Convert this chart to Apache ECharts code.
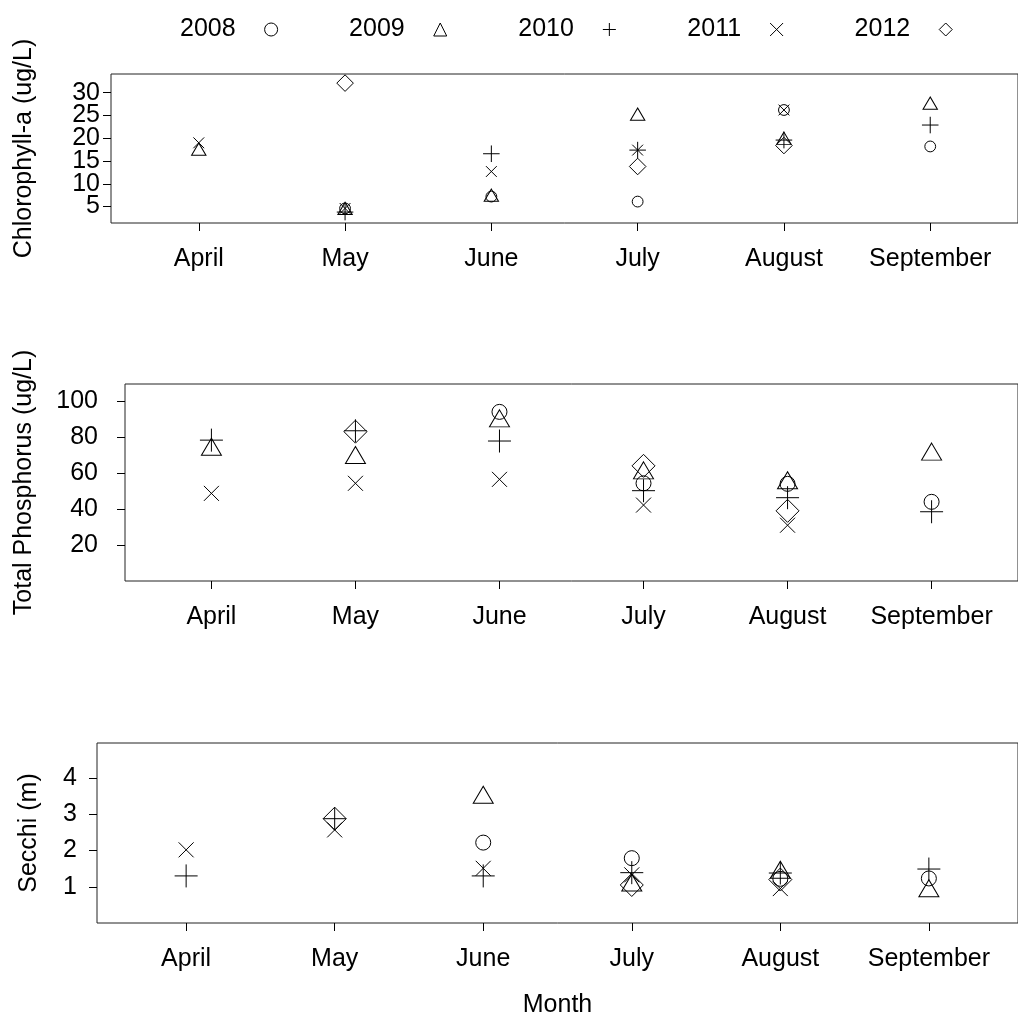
<!DOCTYPE html>
<html>
<head>
<meta charset="utf-8">
<script src="https://cdn.jsdelivr.net/npm/echarts@6/dist/echarts.min.js"></script>
<style>
  html, body { margin: 0; padding: 0; background: #fff; }
  #chart { width: 1018px; height: 1020px; }
</style>
</head>
<body>
<div id="chart"></div>
<script>
// months on x, one value per month (null = no sample)
var months = ['April', 'May', 'June', 'July', 'August', 'September'];
var monthPos = [1, 2, 3, 4, 5, 6];
var years = ['2008', '2009', '2010', '2011', '2012'];

// Chlorophyll-a (ug/L)
var chl2008 = [null, 4.6, 7.2, 6.1, 26.2, 18.2];
var chl2009 = [17.6, 4.6, 7.5, 25.3, 20.0, 27.7];
var chl2010 = [null, 3.8, 16.6, 17.4, 19.6, 22.9];
var chl2011 = [19.0, 4.6, 12.7, 17.4, 26.2, null];
var chl2012 = [null, 32.1, null, 13.8, 18.4, null];

// Total Phosphorus (ug/L)
var tp2008 = [null, null, 94, 54.3, 54, 44];
var tp2009 = [74.6, 70, 90.4, 61.5, 56, 71.9];
var tp2010 = [78.3, 83.5, 77.8, 50.2, 46.3, 38.5];
var tp2011 = [48.7, 54.3, 56.5, 42.2, 31, null];
var tp2012 = [null, 83, null, 64, 39, null];

// Secchi (m)
var sec2008 = [null, null, 2.22, 1.79, 1.22, 1.23];
var sec2009 = [null, null, 3.54, 1.12, 1.47, 0.96];
var sec2010 = [1.30, 2.88, 1.30, 1.39, 1.38, 1.49];
var sec2011 = [2.02, 2.57, 1.51, 1.33, 0.95, null];
var sec2012 = [null, 2.88, null, 1.05, 1.20, null];

// chlorophyll ticks are packed tightly, split over two label rows so none get dropped
var chlTicksA = [5, 15, 25];
var chlTicksB = [10, 20, 30];
var tpTicks = [20, 40, 60, 80, 100];
var secTicks = [1, 2, 3, 4];

var font = '"Liberation Sans", Arial, sans-serif';
var fs = 25;

// R-like plotting symbols: pch 1,2,3,4,5
var symbols = [
  'circle',
  'triangle',
  'path://M0,5 L10,5 M5,0 L5,10',
  'path://M0,0 L10,10 M10,0 L0,10',
  'diamond'
];
// sizes for the lower two panels, top panel is scaled down
var sizeFactor = [[15, 15], [20, 17], [23, 23], [15, 15], [23, 23]];

var chlData = [chl2008, chl2009, chl2010, chl2011, chl2012];
var tpData = [tp2008, tp2009, tp2010, tp2011, tp2012];
var secData = [sec2008, sec2009, sec2010, sec2011, sec2012];

function pts(arr) {
  var out = [];
  for (var i = 0; i < arr.length; i++) {
    if (arr[i] !== null) out.push([monthPos[i], arr[i]]);
  }
  return out;
}

var markStyle = { color: 'none', borderColor: '#000', borderWidth: 1, opacity: 1 };

function makeSeries(dataSets, idx, scale) {
  return years.map(function (y, k) {
    var s = sizeFactor[k];
    return {
      name: y,
      type: 'scatter',
      xAxisIndex: idx,
      yAxisIndex: idx,
      symbol: symbols[k],
      symbolSize: [s[0] * scale, s[1] * scale],
      itemStyle: markStyle,
      emphasis: { disabled: true },
      data: pts(dataSets[k])
    };
  });
}

function xAxis(idx) {
  return {
    type: 'value',
    gridIndex: idx,
    min: 0.4,
    max: 6.6,
    splitLine: { show: false },
    axisLine: { show: false },
    axisTick: { show: true, length: 8, lineStyle: { color: '#000' }, customValues: monthPos },
    axisLabel: {
      margin: 24,
      fontSize: fs,
      fontFamily: font,
      color: '#000',
      hideOverlap: false,
      customValues: monthPos,
      formatter: function (v) { return months[Math.round(v) - 1]; }
    }
  };
}

function yAxis(idx, min, max, ticks, name, gap, margin) {
  return {
    type: 'value',
    gridIndex: idx,
    position: 'left',
    offset: 0,
    min: min,
    max: max,
    name: name,
    nameLocation: 'middle',
    nameGap: gap,
    nameTextStyle: { fontSize: fs, fontFamily: font, color: '#000' },
    splitLine: { show: false },
    axisLine: { show: false },
    axisTick: { show: true, length: 8, lineStyle: { color: '#000' }, customValues: ticks },
    axisLabel: {
      margin: margin,
      fontSize: fs,
      fontFamily: font,
      color: '#000',
      showMinLabel: true,
      showMaxLabel: true,
      hideOverlap: false,
      customValues: ticks
    }
  };
}

var chart = echarts.init(document.getElementById('chart'), null, { renderer: 'canvas' });

var gridStyle = { show: true, borderColor: '#222', borderWidth: 1, backgroundColor: 'transparent' };

var x3 = xAxis(2);
x3.name = 'Month';
x3.nameLocation = 'middle';
x3.nameGap = 70;
x3.nameTextStyle = { fontSize: fs, fontFamily: font, color: '#000' };

var chlExtra = yAxis(0, 1.4, 34.1, chlTicksB, '', 74, 11);

var legendItems = years.map(function (y, k) {
  return {
    name: y,
    icon: symbols[k],
    itemStyle: markStyle
  };
});

chart.setOption({
  animation: false,
  backgroundColor: '#fff',
  legend: {
    data: legendItems,
    left: 175,
    top: 12,
    align: 'right',
    itemWidth: 13,
    itemHeight: 13,
    itemGap: 69,
    selectedMode: false,
    textStyle: { fontSize: fs, fontFamily: font, color: '#000', padding: [0, 24, 0, 0] }
  },
  grid: [
    Object.assign({ left: 111, top: 74, right: -8, height: 149 }, gridStyle),
    Object.assign({ left: 125, top: 384, right: -8, height: 197 }, gridStyle),
    Object.assign({ left: 97, top: 743, right: -8, height: 180 }, gridStyle)
  ],
  xAxis: [xAxis(0), xAxis(1), x3],
  yAxis: [
    yAxis(0, 1.4, 34.1, chlTicksA, 'Chlorophyll-a (ug/L)', 74, 11),
    yAxis(1, 0, 109.5, tpTicks, 'Total Phosphorus (ug/L)', 88, 27),
    yAxis(2, 0, 4.97, secTicks, 'Secchi (m)', 55, 20),
    chlExtra
  ],
  series: [].concat(
    makeSeries(chlData, 0, 0.72),
    makeSeries(tpData, 1, 1),
    makeSeries(secData, 2, 1)
  )
});
</script>
</body>
</html>
